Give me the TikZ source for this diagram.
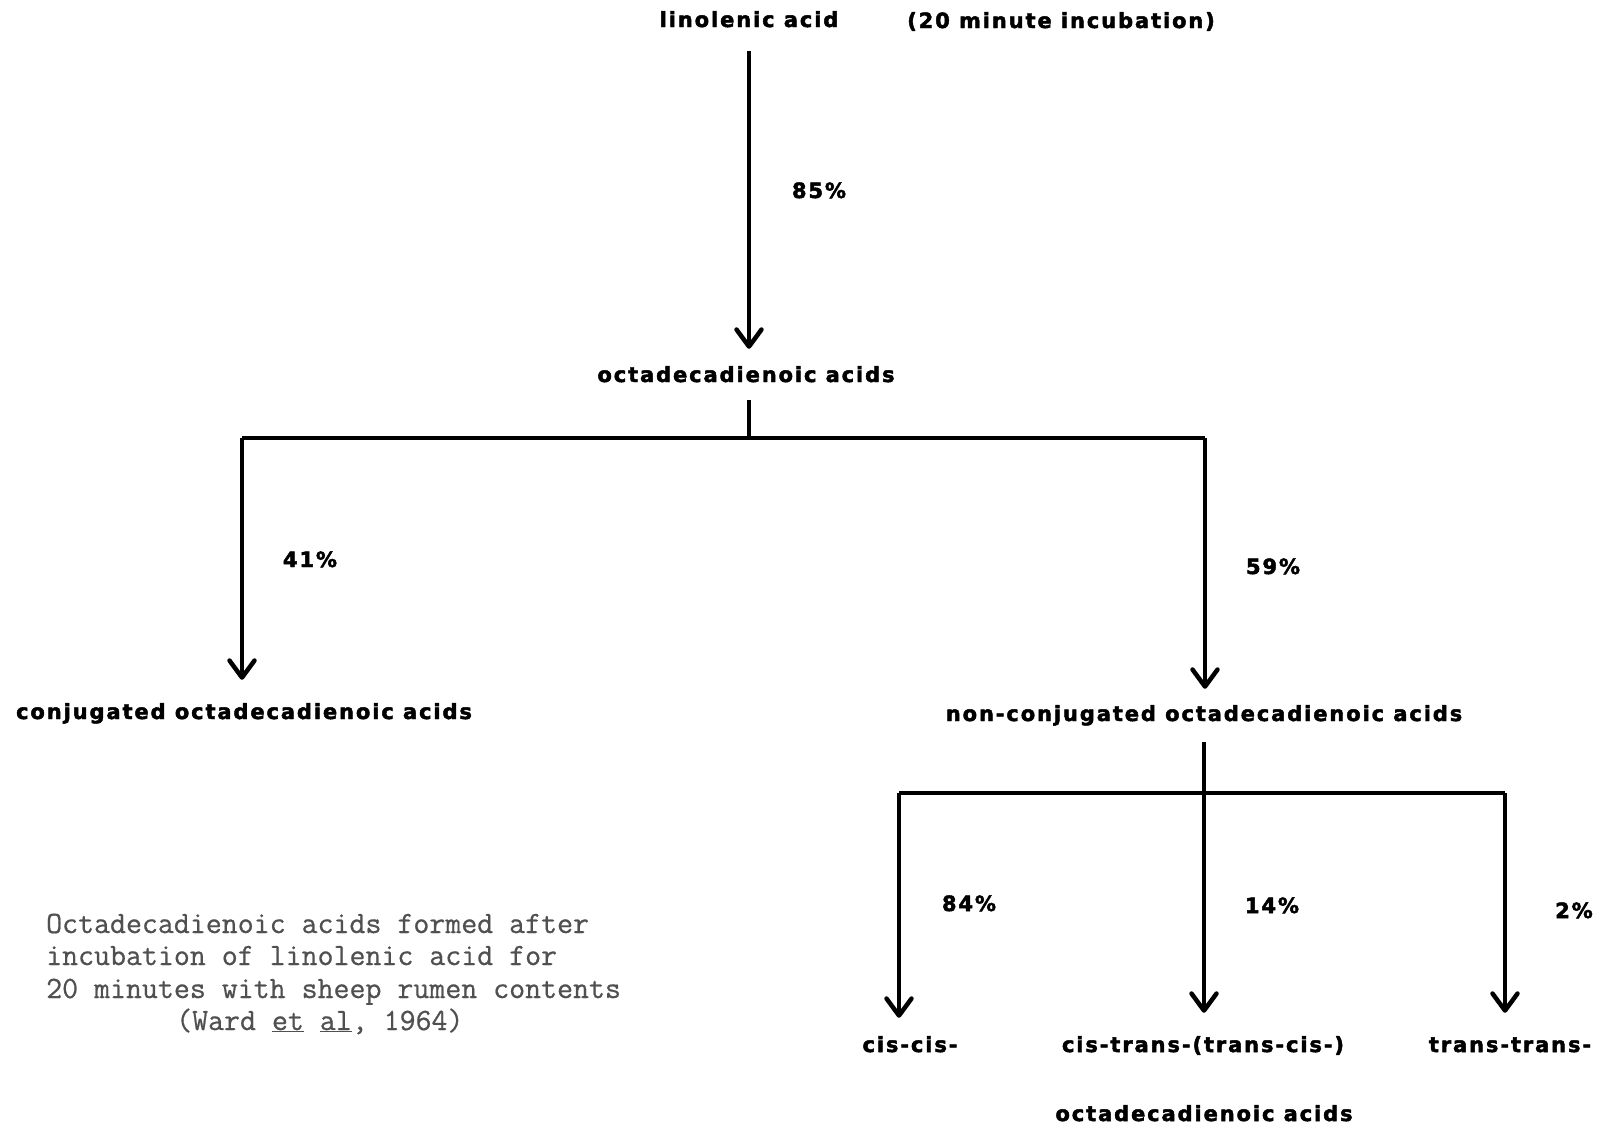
\documentclass[tikz,border=0pt]{standalone}
\usepackage{fontspec}
\usetikzlibrary{arrows.meta}
\newfontfamily\labfont[LetterSpace=9,FakeBold=2.2]{DejaVu Sans Bold}
\newfontfamily\capfont[FakeBold=0.6]{Latin Modern Mono}
\definecolor{capgray}{RGB}{80,80,80}
\begin{document}
\begin{tikzpicture}[x=1pt,y=-1pt,
  lab/.style={font=\labfont\fontsize{21}{25}\selectfont, inner sep=0pt, text height=15pt, text depth=5pt, anchor=base},
  captxt/.style={font=\capfont\fontsize{31}{33}\selectfont, text=capgray, inner sep=0pt, anchor=base west},
  ln/.style={line width=4.5pt},
  hln/.style={line width=4.5pt},
  arr/.style={line width=4.5pt, -{Straight Barb[round,length=17pt,width=25pt]}}
]
\useasboundingbox (0,0) rectangle (1602,1128);
\fill[white] (0,0) rectangle (1602,1128);

% labels
\node[lab] (lin) at (749,27) {linolenic acid};
\node[lab] (inc) at (1061,28) {(20 minute incubation)};
\node[lab] (p85) at (819,198) {85\%};
\node[lab] (oct1) at (746,382) {octadecadienoic acids};
\node[lab] (p41) at (310,567) {41\%};
\node[lab] (p59) at (1273,574) {59\%};
\node[lab] (conj) at (244,719) {conjugated octadecadienoic acids};
\node[lab] (ncon) at (1204,721) {non-conjugated octadecadienoic acids};
\node[lab] (p84) at (969,911) {84\%};
\node[lab] (p14) at (1272,913) {14\%};
\node[lab] (p2) at (1574,918) {2\%};
\node[lab] (cc) at (910,1052) {cis-cis-};
\node[lab] (ct) at (1203,1052) {cis-trans-(trans-cis-)};
\node[lab] (tt) at (1510,1052) {trans-trans-};
\node[lab] (oct2) at (1204,1121) {octadecadienoic acids};

% caption
\node[captxt] (c1) at (46,933) {Octadecadienoic acids formed after};
\node[captxt] (c2) at (46,965) {incubation of linolenic acid for};
\node[captxt] (c3) at (46,998) {20 minutes with sheep rumen contents};
\node[captxt] (c4) at (176,1030) {(Ward \underline{et} \underline{al}, 1964)};

% junctions
\coordinate (j1) at (749,438);
\coordinate (jl) at (242,438);
\coordinate (jr) at (1205,438);
\coordinate (j2) at (1204,793);
\coordinate (kl) at (899,793);
\coordinate (kr) at (1505,793);

% connectors
\draw[arr, shorten <=19pt, shorten >=18pt] (lin.south -| j1) -- (j1 |- oct1.north);
\draw[ln, shorten <=13pt] (j1 |- oct1.south) -- (j1);
\draw[hln] (jl) -- (jr);
\draw[arr, shorten >=24pt] (jl) -- (jl |- conj.north);
\draw[arr, shorten >=17pt] (jr) -- (jr |- ncon.north);
\draw[arr, shorten <=16pt, shorten >=24pt] (ncon.south) -- (ncon.south |- ct.north);
\draw[hln] (kl) -- (kr);
\draw[arr, shorten >=19pt] (kl) -- (kl |- cc.north);
\draw[arr, shorten >=24pt] (kr) -- (kr |- tt.north);
\end{tikzpicture}
\end{document}
